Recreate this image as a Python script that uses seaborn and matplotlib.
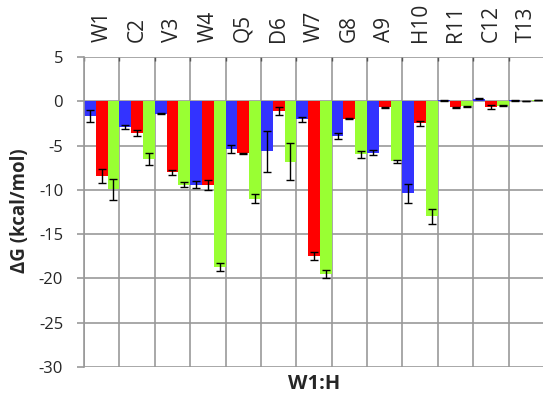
import numpy as np
import pandas as pd
import matplotlib
matplotlib.use("Agg")
import matplotlib.pyplot as plt
import seaborn as sns

categories = ["W1", "C2", "V3", "W4", "Q5", "D6", "W7", "G8", "A9", "H10", "R11", "C12", "T13"]
series_names = ["blue", "red", "green"]
blue_vals = [-1.65, -2.9, -1.4, -9.4, -5.35, -5.65, -2.05, -3.95, -5.8, -10.4, 0.1, 0.3, 0.1]
red_vals = [-8.45, -3.55, -8.0, -9.45, -5.85, -1.1, -17.45, -1.95, -0.7, -2.5, -0.65, -0.65, 0.0]
green_vals = [-9.95, -6.5, -9.4, -18.7, -11.0, -6.8, -19.5, -6.0, -6.75, -13.0, -0.55, -0.5, 0.1]
blue_err = [0.65, 0.22, 0.05, 0.38, 0.45, 2.28, 0.24, 0.32, 0.28, 1.05, 0.03, 0.06, 0.03]
red_err = [0.8, 0.33, 0.28, 0.58, 0.05, 0.45, 0.45, 0.08, 0.08, 0.26, 0.06, 0.26, 0.0]
green_err = [1.18, 0.68, 0.32, 0.45, 0.5, 2.07, 0.42, 0.35, 0.17, 0.88, 0.05, 0.08, 0.0]
colors = ["#3333FF", "#FF0000", "#99FF33"]
x_label = "W1:H"
y_label = "ΔG (kcal/mol)"
y_ticks = [5, 0, -5, -10, -15, -20, -25, -30]

df = pd.DataFrame({
    "cat": categories * 3,
    "series": sum([[s] * len(categories) for s in series_names], []),
    "value": blue_vals + red_vals + green_vals,
})
errs = [blue_err, red_err, green_err]

sns.set_theme(style="white")
plt.rcParams["font.family"] = ["Open Sans", "DejaVu Sans"]

fig = plt.figure(figsize=(5.43, 4.0), dpi=100)
ax = fig.add_axes([84 / 543, 1 - 367 / 400, 460 / 543, (367 - 57) / 400])

sns.barplot(data=df, x="cat", y="value", hue="series", order=categories,
            hue_order=series_names, palette=colors, width=1.0, gap=0,
            errorbar=None, saturation=1, linewidth=0, edgecolor="none",
            legend=False, ax=ax, zorder=2)

for cont, err in zip(ax.containers, errs):
    xs = [b.get_x() + b.get_width() / 2 for b in cont]
    ys = [b.get_height() for b in cont]
    ax.errorbar(xs, ys, yerr=err, fmt="none", ecolor="black", elinewidth=1.0,
                capsize=2.6, capthick=1.0, zorder=3)

ax.set_ylim(-30, 5)
ax.set_xlim(-0.5, len(categories) - 0.5)
ax.set_yticks(y_ticks)
ax.set_yticklabels([str(t) for t in y_ticks], fontsize=12)
ax.set_xticks(range(len(categories)))
ax.set_xticks(np.arange(len(categories) + 1) - 0.5, minor=True)
ax.xaxis.tick_top()
ax.set_xticklabels(categories, rotation=90, fontsize=15)
ax.tick_params(axis="x", which="major", length=0, pad=10.5)
ax.tick_params(axis="x", which="minor", top=True, bottom=False, direction="in",
               length=3, width=1.0, color="#555555")
ax.tick_params(axis="y", which="major", length=5, width=1.2, color="#999999",
               left=True, pad=10)

ax.set_axisbelow(True)
ax.grid(axis="y", which="major", color="#999999", linewidth=1.2, zorder=0)
ax.grid(axis="x", which="minor", color="#999999", linewidth=1.2, zorder=0)
ax.grid(axis="x", which="major", visible=False)

for s in ["top", "right", "bottom"]:
    ax.spines[s].set_visible(False)
ax.spines["left"].set_color("#999999")
ax.spines["left"].set_linewidth(1.2)

ax.set_xlabel(x_label, fontsize=14.5, fontweight="bold", labelpad=5)
ax.xaxis.set_label_position("bottom")
ax.set_ylabel(y_label, fontsize=13.4, fontweight="bold")
ax.yaxis.set_label_coords(-0.117, 0.505)

fig.savefig("out.png", dpi=100)
